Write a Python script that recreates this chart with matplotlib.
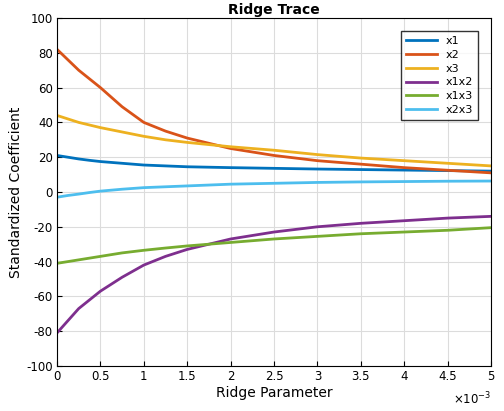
import matplotlib
matplotlib.use("Agg")
import matplotlib.pyplot as plt
import numpy as np

plt.rcParams["axes.unicode_minus"] = False

k = np.array([0, 0.125, 0.25, 0.375, 0.5, 0.75, 1, 1.25, 1.5, 2, 2.5, 3, 3.5, 4, 4.5, 5]) * 1e-3
x1 = [21, 20, 19, 18.2, 17.5, 16.5, 15.5, 15, 14.5, 14, 13.6, 13.2, 12.9, 12.6, 12.3, 12]
x2 = [82, 76, 70, 65, 60, 49, 40, 35, 31, 25, 21, 18, 16, 14, 12.5, 11]
x3 = [44, 42, 40, 38.5, 37, 34.5, 32, 30, 28.5, 26, 24, 21.5, 19.5, 18, 16.5, 15]
x1x2 = [-81, -74, -67, -62, -57, -49, -42, -37, -33, -27, -23, -20, -18, -16.5, -15, -14]
x1x3 = [-41, -40, -39, -38, -37, -35, -33.5, -32.2, -31, -29, -27, -25.5, -24, -23, -22, -20.5]
x2x3 = [-3, -2, -1.2, -0.3, 0.5, 1.6, 2.5, 3, 3.5, 4.5, 5, 5.5, 5.8, 6, 6.2, 6.3]
names = ["x1", "x2", "x3", "x1x2", "x1x3", "x2x3"]
colors = ["#0072BD", "#D95319", "#EDB120", "#7E2F8E", "#77AC30", "#4DBEEE"]

fig = plt.figure(figsize=(5.04, 4.11), dpi=100)
ax = fig.add_axes([57/504, 45/411, 434/504, 348/411])
for y, n, c in zip([x1, x2, x3, x1x2, x1x3, x2x3], names, colors):
    ax.plot(k, y, color=c, lw=2, label=n)
ax.set_xlim(0, 5e-3)
ax.set_ylim(-100, 100)
ax.set_xticks(np.arange(0, 5.01, 0.5) * 1e-3)
ax.set_xticklabels(["0", "0.5", "1", "1.5", "2", "2.5", "3", "3.5", "4", "4.5", "5"])
ax.set_yticks(range(-100, 101, 20))
ax.grid(True, color="#dcdcdc", lw=0.8)
ax.tick_params(labelsize=8.5, direction="in", pad=3)
ax.set_xlabel("Ridge Parameter", fontsize=10, labelpad=2)
ax.set_ylabel("Standardized Coefficient", fontsize=10, labelpad=2)
ax.set_title("Ridge Trace", fontsize=10, fontweight="bold", pad=3)
ax.text(1.0, -0.07, r"$\times10^{-3}$", transform=ax.transAxes, ha="right", va="top", fontsize=8.5)
ax.legend(loc="upper right", fontsize=8, fancybox=False, edgecolor="black",
          handlelength=2.8, borderaxespad=1.2, labelspacing=0.35)
fig.savefig("out.png", dpi=100)
